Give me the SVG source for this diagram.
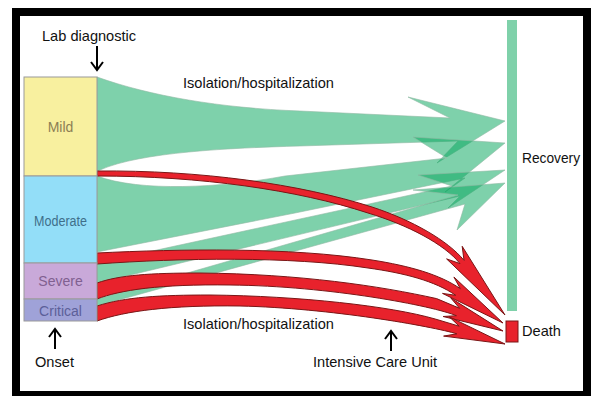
<svg xmlns="http://www.w3.org/2000/svg" width="591" height="396" viewBox="0 0 591 396">
<defs>
<style>
.lbl{font-family:"Liberation Sans",Arial,sans-serif;font-size:14.6px;fill:#111}
.box{stroke:#9a9a9a;stroke-width:1}
.bl{font-family:"Liberation Sans",Arial,sans-serif;font-size:14px;text-anchor:middle}
.g{fill:#07a75d;fill-opacity:0.52;stroke:#8fb8a3;stroke-width:0.6}
.r{fill:#e8222c;stroke:#7a1616;stroke-width:1;stroke-linejoin:miter}
.ar{fill:none;stroke:#000;stroke-width:2}
</style>
</defs>
<rect x="12" y="8" width="579" height="388" fill="#000"/>
<rect x="20" y="16" width="563" height="375" fill="#fff"/>

<g id="connectors">
  <g id="green-flows">
    <path class="g" d="M97,77 C150,96 220,108 300,111 L450,118 L408,97 L505,121 L437,163 L458,141 L300,146 C230,148 140,152 100,170 L97,171 Z"/>
    <path class="g" d="M97,176 C140,192 220,188 285,176 L447,158 L413,137 L505,143 L445,192 L465,178 L295,213 L97,252 Z"/>
    <path class="g" d="M97,263 L452,186 L418,175 L505,170 L448,208 L460,196 L97,283 Z"/>
    <path class="g" d="M97,299 L458,195 L413,190 L505,183 L457,230 L465,204 L97,306 Z"/>
  </g>
  <g id="red-flows">
    <path class="r" d="M97,171 C200,170 300,184 372,207 C412,220 448.3,240.9 464,260.4 L462.2,246.3 L505,315 L446.6,258.9 L460,263.6 C444.3,244.1 408,225 368,213 C298,190 200,176 97,176 Z"/>
    <path class="r" d="M97,253 C180,249 290,247 372,260 C410,266 439.8,274.5 460.3,288.7 L453.9,277 L503,323 L442.5,293.4 L455.7,295.3 C435.2,281 404,273 368,268 C290,256 180,258 97,264 Z"/>
    <path class="r" d="M97,283 C120,275 150,273 200,273 C300,274 380,286 436.6,298.6 L459.6,308.3 L450.9,298.1 L503,331 L443.1,316.5 L456.4,315.7 C433.4,306 330,286 230,285 C160,284 120,290 97,299 Z"/>
    <path class="r" d="M97,306 C125,297 160,295 210,295 C300,296 390,306 435.2,319 L459.2,326.2 L449.4,316.9 L505,344 L443.6,336.1 L456.8,333.8 C432.8,326.5 330,308 240,306 C170,305 125,311 97,321 Z"/>
  </g>
  <g id="pointers">
    <path class="ar" d="M97,46 V70 M91,62 L97,70 L103,62"/>
    <path class="ar" d="M55,349 V329 M49,337 L55,329 L61,337"/>
    <path class="ar" d="M391,351 V331 M385,339 L391,331 L397,339"/>
  </g>
</g>

<g id="mild"><rect class="box" x="24" y="77" width="73" height="99" fill="#f8f09f"/><text class="bl" x="60.5" y="132" fill="#8c7f55">Mild</text></g>
<g id="moderate"><rect class="box" x="24" y="176" width="73" height="87" fill="#93def8"/><text class="bl" x="60.5" y="226" fill="#3f6f8a" textLength="53" lengthAdjust="spacingAndGlyphs">Moderate</text></g>
<g id="severe"><rect class="box" x="24" y="263" width="73" height="36" fill="#c9a9d9"/><text class="bl" x="60.5" y="286" fill="#806090">Severe</text></g>
<g id="critical"><rect class="box" x="24" y="299" width="73" height="22" fill="#9fa2d8"/><text class="bl" x="60.5" y="316" fill="#5c5f99">Critical</text></g>
<g id="recovery"><rect x="507" y="20" width="10" height="291" fill="#7fd1aa"/><text class="lbl" x="522" y="163" textLength="58" lengthAdjust="spacingAndGlyphs">Recovery</text></g>
<g id="death"><rect x="506" y="321" width="12" height="21" fill="#e8222c" stroke="#7a1616" stroke-width="1"/><text class="lbl" x="522" y="336">Death</text></g>

<g id="labels">
  <text class="lbl" x="42" y="41">Lab diagnostic</text>
  <text class="lbl" x="183" y="88">Isolation/hospitalization</text>
  <text class="lbl" x="183" y="329">Isolation/hospitalization</text>
  <text class="lbl" x="313" y="367">Intensive Care Unit</text>
  <text class="lbl" x="35" y="367">Onset</text>
</g>
</svg>
